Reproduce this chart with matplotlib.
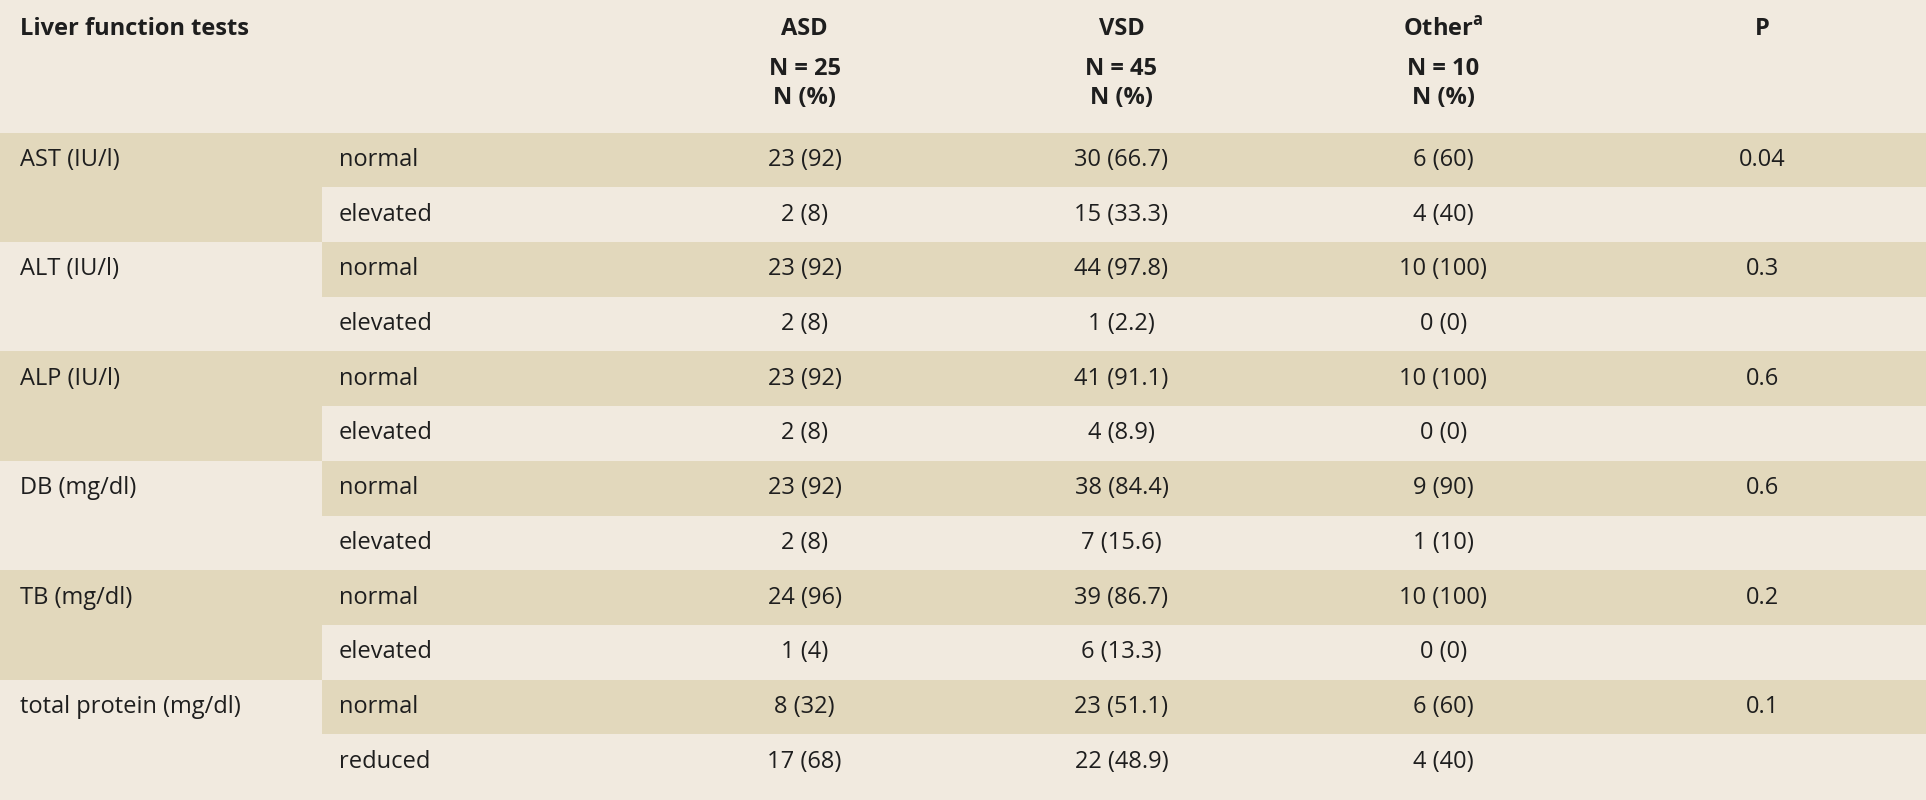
import matplotlib.pyplot as plt
from matplotlib.patches import Rectangle

# =====================================================
# DADOS
# =====================================================

tests = ["AST (IU/l)", "ALT (IU/l)", "ALP (IU/l)", "DB (mg/dl)", "TB (mg/dl)",
         "total protein (mg/dl)"]
levels = [["normal", "elevated"]] * 5 + [["normal", "reduced"]]
asd = [["23 (92)", "2 (8)"], ["23 (92)", "2 (8)"], ["23 (92)", "2 (8)"],
       ["23 (92)", "2 (8)"], ["24 (96)", "1 (4)"], ["8 (32)", "17 (68)"]]
vsd = [["30 (66.7)", "15 (33.3)"], ["44 (97.8)", "1 (2.2)"], ["41 (91.1)", "4 (8.9)"],
       ["38 (84.4)", "7 (15.6)"], ["39 (86.7)", "6 (13.3)"], ["23 (51.1)", "22 (48.9)"]]
other = [["6 (60)", "4 (40)"], ["10 (100)", "0 (0)"], ["10 (100)", "0 (0)"],
         ["9 (90)", "1 (10)"], ["10 (100)", "0 (0)"], ["6 (60)", "4 (40)"]]
pvals = ["0.04", "0.3", "0.6", "0.6", "0.2", "0.1"]

# =====================================================
# LAYOUT (coordenadas em pixels 1568x651)
# =====================================================

W, H = 1568, 651
bg = "#f1eadf"
shade = "#e2d8bc"
txt = "#1e1e1e"
fs = 17
font = "Open Sans"

top = 108
rh = 44.5
col_x = [655, 913, 1175, 1435]
head_y = [24, 56, 80]

fig = plt.figure(figsize=(19.26, 8), dpi=100, facecolor=bg)
ax = fig.add_axes([0, 0, 1, 1])
ax.set_xlim(0, W)
ax.set_ylim(H, 0)
ax.axis("off")
ax.add_patch(Rectangle((0, 0), W, H, color=bg, zorder=0))

# cabeçalho
ax.text(16, 24, "Liver function tests", fontsize=fs, fontweight="bold",
        family=font, color=txt, va="center")
heads = [["ASD", "N = 25", "N (%)"], ["VSD", "N = 45", "N (%)"],
         ["Other$^{\\mathregular{a}}$", "N = 10", "N (%)"], ["P"]]
for x, h in zip(col_x, heads):
    for k, s in enumerate(h):
        ax.text(x, head_y[k], s, fontsize=fs, fontweight="bold", family=font,
                color=txt, ha="center", va="center")

# linhas
for i, t in enumerate(tests):
    y0 = top + 2 * rh * i
    if i % 2 == 0:
        ax.add_patch(Rectangle((0, y0), 262, 2 * rh, color=shade, lw=0, zorder=1))
    ax.add_patch(Rectangle((262, y0), W - 262, rh, color=shade, lw=0, zorder=1))
    ax.text(16, y0 + rh / 2, t, fontsize=fs, family=font, color=txt,
            va="center", zorder=2)
    for j in range(2):
        yc = y0 + rh * j + rh / 2
        ax.text(276, yc, levels[i][j], fontsize=fs, family=font, color=txt,
                va="center", zorder=2)
        for x, s in zip(col_x[:3], [asd[i][j], vsd[i][j], other[i][j]]):
            ax.text(x, yc, s, fontsize=fs, family=font, color=txt,
                    ha="center", va="center", zorder=2)
    ax.text(col_x[3], y0 + rh / 2, pvals[i], fontsize=fs, family=font,
            color=txt, ha="center", va="center", zorder=2)

plt.savefig("out.png", dpi=100, facecolor=bg)
